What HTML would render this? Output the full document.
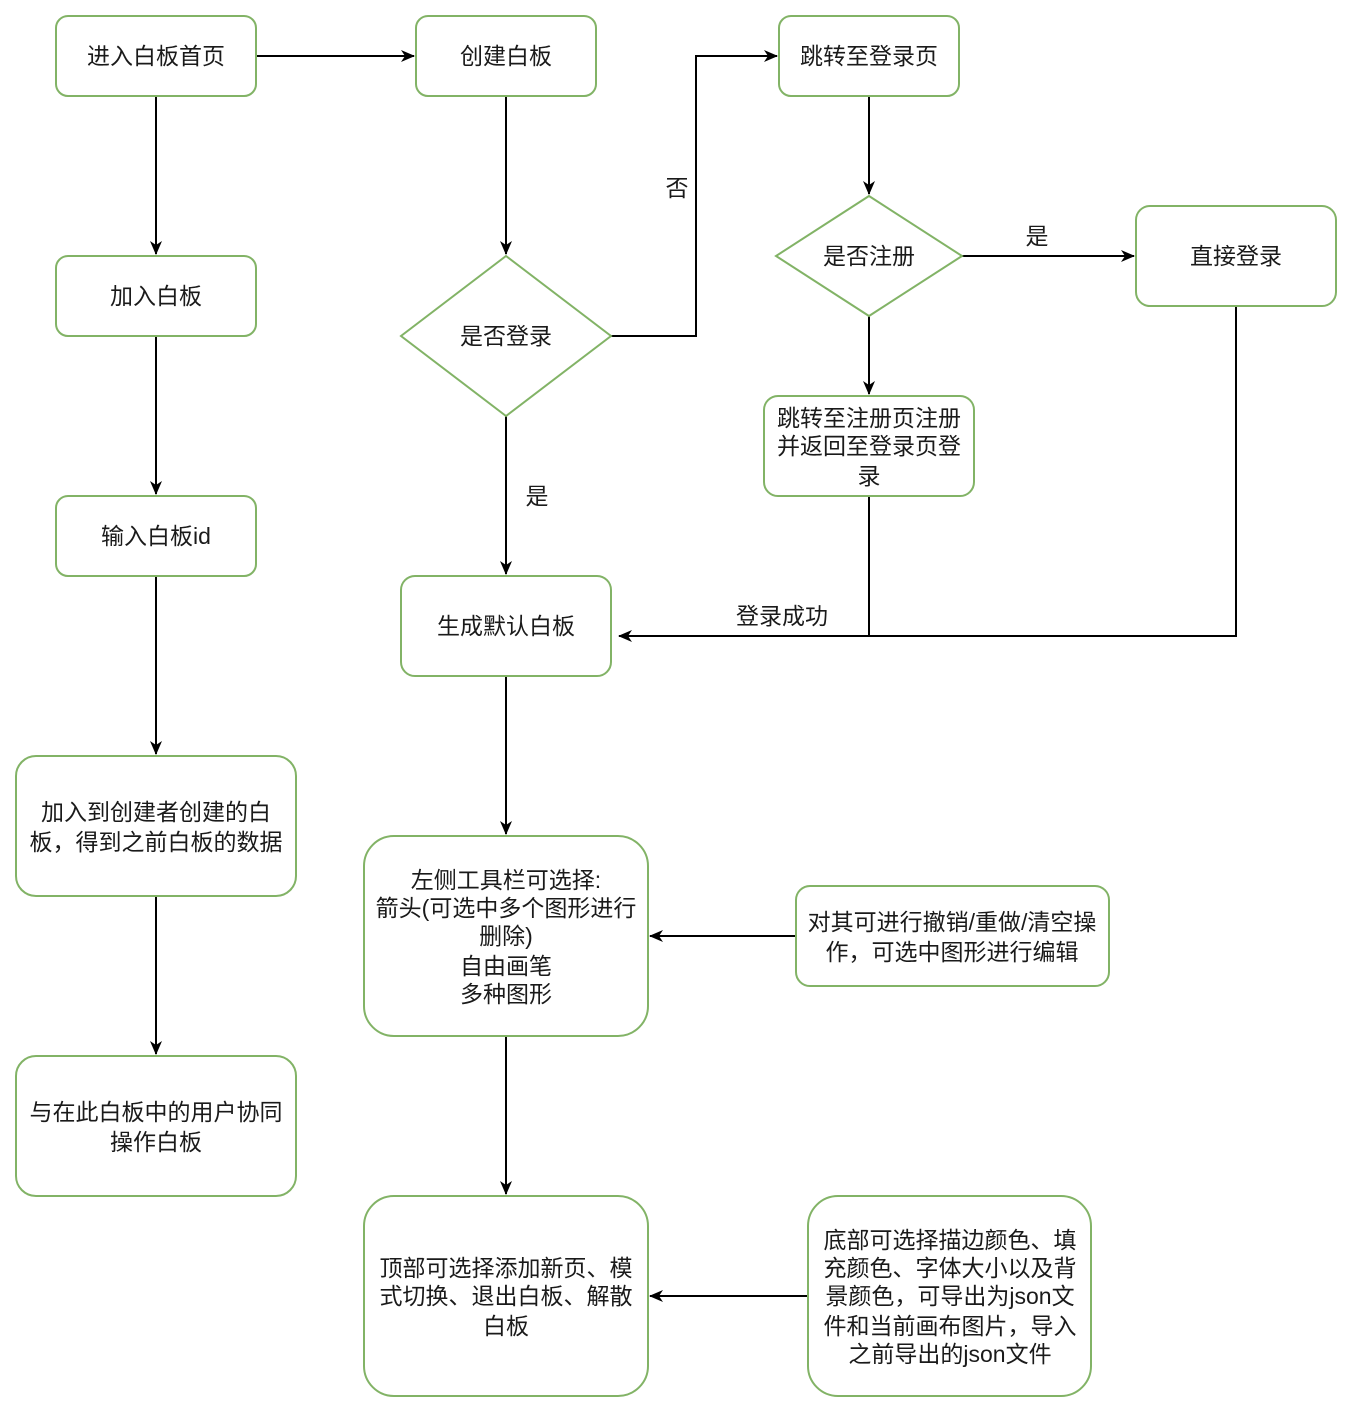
<!DOCTYPE html>
<html><head><meta charset="utf-8"><style>
html,body{margin:0;padding:0;background:#fff;}
svg text{font-family:"Liberation Sans","Noto Sans CJK SC",sans-serif;font-size:23px;fill:#1a1a1a;}
</style></head><body>
<svg width="1354" height="1414" viewBox="0 0 1354 1414" xmlns="http://www.w3.org/2000/svg">
<defs>
<marker id="a" markerWidth="14" markerHeight="12" refX="13" refY="6" orient="auto" markerUnits="userSpaceOnUse">
<path d="M0,0 L14,6 L0,12 L4,6 Z" fill="#000"/>
</marker>
</defs>
<g fill="none" stroke="#000" stroke-width="2" marker-end="url(#a)">
<path d="M256,56 H414"/>
<path d="M156,96 V254"/>
<path d="M156,336 V494"/>
<path d="M156,576 V754"/>
<path d="M156,896 V1054"/>
<path d="M506,96 V254"/>
<path d="M611,336 H696 V56 H777"/>
<path d="M869,96 V194"/>
<path d="M962,256 H1134"/>
<path d="M869,316 V394"/>
<path d="M506,416 V574"/>
<path d="M1236,306 V636 H619"/>
<path d="M506,676 V834"/>
<path d="M796,936 H650"/>
<path d="M506,1036 V1194"/>
<path d="M808,1296 H650"/>
</g>
<path d="M869,496 V636 M836,636 H869" stroke="#000" stroke-width="2" fill="none"/>
<g fill="#fff" stroke="#82b366" stroke-width="2">
<rect x="56" y="16" width="200" height="80" rx="12"/>
<rect x="416" y="16" width="180" height="80" rx="12"/>
<rect x="779" y="16" width="180" height="80" rx="12"/>
<rect x="56" y="256" width="200" height="80" rx="12"/>
<rect x="56" y="496" width="200" height="80" rx="12"/>
<rect x="16" y="756" width="280" height="140" rx="20"/>
<rect x="16" y="1056" width="280" height="140" rx="20"/>
<polygon points="506,256 611,336 506,416 401,336"/>
<polygon points="869,196 962,256 869,316 776,256"/>
<rect x="1136" y="206" width="200" height="100" rx="14"/>
<rect x="764" y="396" width="210" height="100" rx="14"/>
<rect x="401" y="576" width="210" height="100" rx="14"/>
<rect x="364" y="836" width="284" height="200" rx="30"/>
<rect x="796" y="886" width="313" height="100" rx="14"/>
<rect x="364" y="1196" width="284" height="200" rx="30"/>
<rect x="808" y="1196" width="283" height="200" rx="30"/>
</g>
<g text-anchor="middle">
<text x="156" y="64">进入白板首页</text>
<text x="506" y="64">创建白板</text>
<text x="869" y="64">跳转至登录页</text>
<text x="156" y="304">加入白板</text>
<text x="156" y="544">输入白板id</text>
<text x="156" y="820">加入到创建者创建的白</text>
<text x="156" y="850">板，得到之前白板的数据</text>
<text x="156" y="1120">与在此白板中的用户协同</text>
<text x="156" y="1150">操作白板</text>
<text x="506" y="344">是否登录</text>
<text x="869" y="264">是否注册</text>
<text x="1236" y="264">直接登录</text>
<text x="869" y="426">跳转至注册页注册</text>
<text x="869" y="454">并返回至登录页登</text>
<text x="869" y="484">录</text>
<text x="506" y="634">生成默认白板</text>
<text x="506" y="888">左侧工具栏可选择:</text>
<text x="506" y="916">箭头(可选中多个图形进行</text>
<text x="506" y="944">删除)</text>
<text x="506" y="974">自由画笔</text>
<text x="506" y="1002">多种图形</text>
<text x="952" y="930">对其可进行撤销/重做/清空操</text>
<text x="952" y="960">作，可选中图形进行编辑</text>
<text x="506" y="1276">顶部可选择添加新页、模</text>
<text x="506" y="1304">式切换、退出白板、解散</text>
<text x="506" y="1334">白板</text>
<text x="950" y="1248">底部可选择描边颜色、填</text>
<text x="950" y="1276">充颜色、字体大小以及背</text>
<text x="950" y="1304">景颜色，可导出为json文</text>
<text x="950" y="1334">件和当前画布图片，导入</text>
<text x="950" y="1362">之前导出的json文件</text>
<text x="677" y="196">否</text>
<text x="1037" y="244">是</text>
<text x="537" y="504">是</text>
<text x="782" y="624">登录成功</text>
</g>
</svg>
</body></html>
